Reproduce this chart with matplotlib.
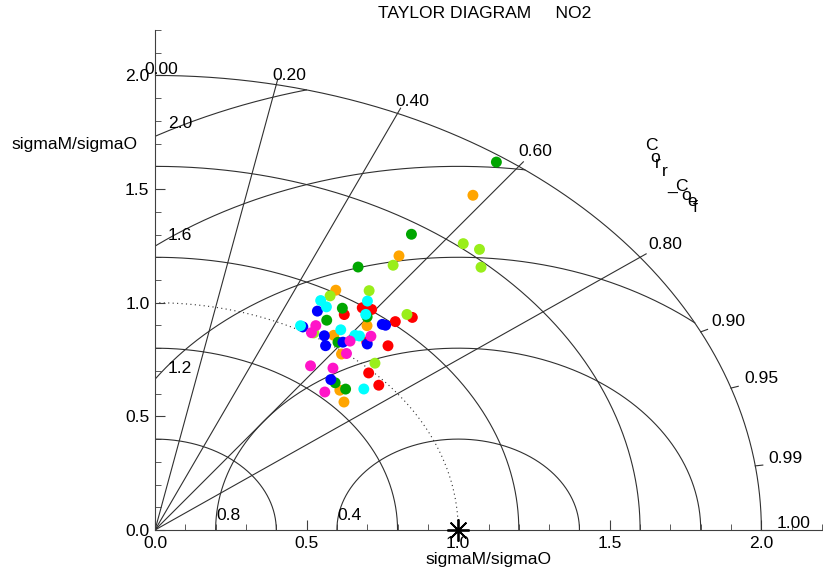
import numpy as np
import matplotlib
matplotlib.use("Agg")
import matplotlib.pyplot as plt
from matplotlib.ticker import MultipleLocator, FormatStrFormatter

plt.rcParams['font.family'] = ['Liberation Sans', 'DejaVu Sans']
plt.rcParams['font.size'] = 12.6

# sigmaM/sigmaO and correlation of every run, one pair of lists per colour
red_std = [1.193, 1.205, 1.135, 1.212, 1.263, 1.083, 1.117, 0.987, 0.975]
red_corr = [0.573, 0.593, 0.550, 0.654, 0.672, 0.645, 0.688, 0.714, 0.757]

orange_std = [1.808, 1.450, 1.212, 1.139, 1.040, 0.989, 0.866, 0.840]
orange_corr = [0.580, 0.555, 0.492, 0.614, 0.567, 0.622, 0.704, 0.742]

green_std = [1.972, 1.552, 1.337, 1.155, 1.170, 1.083, 1.023, 0.879, 0.883]
green_corr = [0.571, 0.545, 0.501, 0.535, 0.598, 0.523, 0.590, 0.676, 0.712]

lime_std = [1.619, 1.634, 1.579, 1.405, 1.268, 1.181, 1.261, 1.013, 1.032]
lime_corr = [0.628, 0.655, 0.681, 0.559, 0.557, 0.489, 0.659, 0.517, 0.703]

blue_std = [1.102, 1.175, 1.179, 1.018, 1.021, 1.033, 1.077, 0.987, 0.880]
blue_corr = [0.486, 0.638, 0.645, 0.479, 0.547, 0.600, 0.650, 0.570, 0.659]

cyan_std = [1.148, 1.133, 1.227, 1.176, 1.019, 1.073, 1.081, 1.088, 0.927]
cyan_corr = [0.476, 0.499, 0.571, 0.591, 0.471, 0.571, 0.610, 0.620, 0.743]

magenta_std = [1.044, 1.010, 1.111, 1.051, 1.001, 0.886, 0.923, 0.826]
magenta_corr = [0.508, 0.511, 0.641, 0.612, 0.631, 0.579, 0.636, 0.678]

groups = [
    (red_std, red_corr, '#ff0000'),
    (orange_std, orange_corr, '#ffa500'),
    (green_std, green_corr, '#00a600'),
    (lime_std, lime_corr, '#99ee1a'),
    (blue_std, blue_corr, '#0000ff'),
    (cyan_std, cyan_corr, '#00ffff'),
    (magenta_std, magenta_corr, '#ff14c8'),
]

std_arcs = [0.4, 0.8, 1.2, 1.6, 2.0]
rms_arcs = [0.4, 0.8, 1.2, 1.6, 2.0]
corr_lines = [0.2, 0.4, 0.6, 0.8]
corr_ticks = [0.0, 0.2, 0.4, 0.6, 0.8, 0.9, 0.95, 0.99, 1.0]

W, H = 823, 576
fig = plt.figure(figsize=(W / 100, H / 100), dpi=100)
ax = fig.add_axes([155 / W, 46 / H, 667 / W, 500 / H])
ax.set_xlim(0, 2.2)
ax.set_ylim(0, 2.2)

lc = '#303030'
rmax = 2.0

# arcs of constant sigma ratio
t = np.linspace(0, np.pi / 2, 400)
for r in std_arcs:
    ax.plot(r * np.cos(t), r * np.sin(t), color=lc, lw=0.8)
ax.plot(np.cos(t), np.sin(t), color=lc, lw=0.8, ls=(0, (1, 3)))

# arcs of constant centred rms difference, around the reference point
t2 = np.linspace(0, np.pi, 3000)
for r in rms_arcs:
    x = 1 + r * np.cos(t2)
    y = r * np.sin(t2)
    bad = (x ** 2 + y ** 2 > rmax ** 2 + 1e-4) | (x < 0)
    x[bad] = np.nan
    y[bad] = np.nan
    ax.plot(x, y, color=lc, lw=0.8)

# correlation rays
for c in corr_lines:
    th = np.arccos(c)
    ax.plot([0, rmax * np.cos(th)], [0, rmax * np.sin(th)], color=lc, lw=0.8)

# correlation ticks and labels on the outer arc
lab_off = [(6.5, 6), (13, 9), (15, 12), (16, 14.5), (25, 13),
           (28, 10.5), (30, 10), (30, 7), (32.5, 6)]
for c, off in zip(corr_ticks, lab_off):
    th = np.arccos(c)
    ax.plot([rmax * np.cos(th), 2.025 * np.cos(th)],
            [rmax * np.sin(th), 2.025 * np.sin(th)], color=lc, lw=0.8, clip_on=False)
    ax.annotate(f"{c:.2f}", xy=(rmax * np.cos(th), rmax * np.sin(th)),
                xytext=off, textcoords='offset pixels', ha='center', va='center')

# rms labels
rms_lab_pos = [(0.601, 0.066), (0.204, 0.066), (0.043, 0.712), (0.043, 1.297), (0.043, 1.79)]
for r, (lx, ly) in zip(rms_arcs, rms_lab_pos):
    ax.text(lx, ly, f"{r:.1f}", ha='left', va='center')

# model points
for s, c, col in groups:
    s = np.array(s)
    c = np.array(c)
    ax.scatter(s * c, s * np.sqrt(1 - c ** 2), s=62, color=col, edgecolors='none', zorder=3)

# reference point
ax.plot(1.0, 0.0, marker=(8, 2, 0), ms=16, mew=1.3, color='k', clip_on=False, zorder=5)

for side in ['top', 'right']:
    ax.spines[side].set_visible(False)
for side in ['left', 'bottom']:
    ax.spines[side].set_color('#404040')
ax.xaxis.set_major_locator(MultipleLocator(0.5))
ax.xaxis.set_minor_locator(MultipleLocator(0.1))
ax.yaxis.set_major_locator(MultipleLocator(0.5))
ax.yaxis.set_minor_locator(MultipleLocator(0.1))
ax.xaxis.set_major_formatter(FormatStrFormatter('%.1f'))
ax.yaxis.set_major_formatter(FormatStrFormatter('%.1f'))
ax.tick_params(which='both', direction='in', top=False, right=False, color='#404040')
ax.tick_params(which='major', length=7, pad=4)
ax.tick_params(which='minor', length=4.5)
ax.set_xlabel('sigmaM/sigmaO', labelpad=1)

fig.text(12 / W, 1 - 145 / H, 'sigmaM/sigmaO', ha='left', va='center')
fig.text(378 / W, 1 - 14 / H, 'TAYLOR DIAGRAM     NO2', ha='left', va='center')

# the curved "Corr_Coef" caption, one character at a time
cap_chars = list("Corr_Coef")
cap_px = [(651, 146), (655, 157), (658, 163), (665, 171), (672, 187),
          (681, 186), (686, 195), (692, 202), (695, 207)]
for ch, (px, py) in zip(cap_chars, cap_px):
    fig.text(px / W, 1 - py / H, ch, ha='center', va='center')

fig.savefig('out.png', dpi=100)
